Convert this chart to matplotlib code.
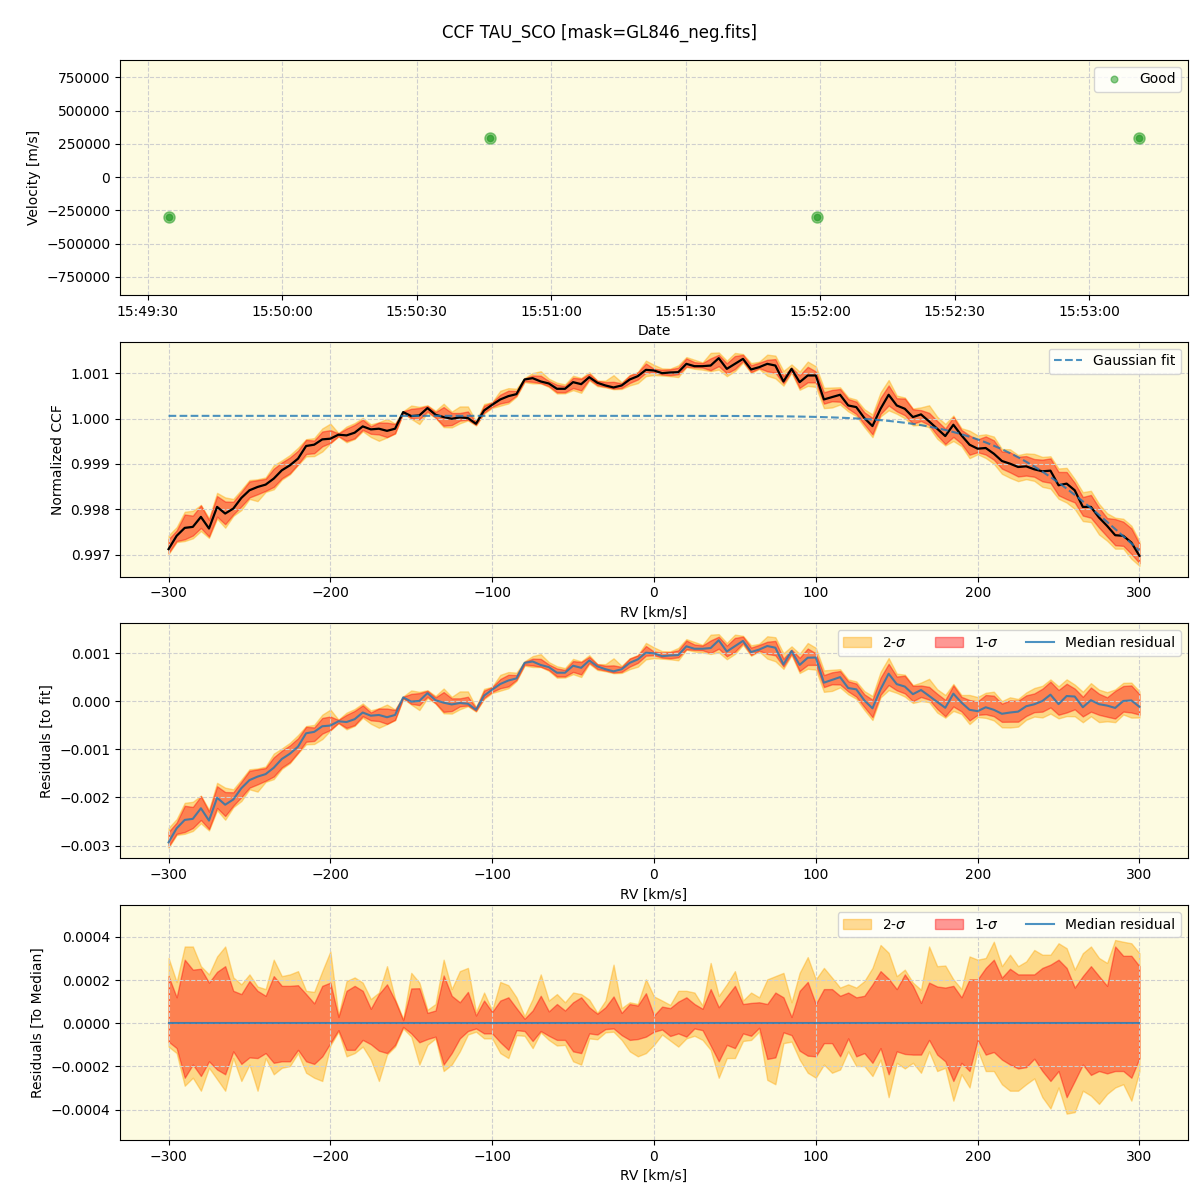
import matplotlib
matplotlib.use('Agg')
import matplotlib.pyplot as plt
import matplotlib.dates as mdates
from matplotlib.ticker import MultipleLocator
import numpy as np
import pandas as pd

# ---------------- data ----------------
obs_times = pd.to_datetime(['2023-06-01 15:49:34.7', '2023-06-01 15:50:46.3',
                            '2023-06-01 15:51:59.2', '2023-06-01 15:53:11.1'])
obs_velocity = [-300000, 293000, -300000, 293000]

rv = np.arange(-300, 305, 5)

ccf_median = [
    0.997125, 0.997418, 0.997593, 0.997615, 0.997835, 0.997579, 0.998055, 0.997909, 0.998018, 0.998253,
    0.998421, 0.998494, 0.998546, 0.998678, 0.998861, 0.998971, 0.999117, 0.999396, 0.999425, 0.999542,
    0.999557, 0.999645, 0.999630, 0.999689, 0.999828, 0.999762, 0.999777, 0.999730, 0.999777, 1.000143,
    1.000055, 1.000070, 1.000231, 1.000084, 1.000033, 0.999996, 1.000026, 1.000011, 0.999886, 1.000179,
    1.000304, 1.000421, 1.000494, 1.000538, 1.000861, 1.000890, 1.000817, 1.000773, 1.000656, 1.000656,
    1.000802, 1.000758, 1.000912, 1.000788, 1.000729, 1.000685, 1.000729, 1.000861, 1.000934, 1.001073,
    1.001059, 1.001000, 1.001015, 1.001022, 1.001205, 1.001154, 1.001154, 1.001168, 1.001330, 1.001095,
    1.001205, 1.001315, 1.001081, 1.001132, 1.001205, 1.001168, 1.000817, 1.001095, 1.000802, 1.000949,
    1.000949, 1.000421, 1.000473, 1.000524, 1.000289, 1.000253, 1.000011, 0.999835, 1.000216, 1.000524,
    1.000289, 1.000216, 1.000033, 1.000092, 0.999938, 0.999777, 0.999615, 0.999864, 0.999630, 0.999425,
    0.999337, 0.999352, 0.999227, 0.999066, 0.999007, 0.998934, 0.998948, 0.998883, 0.998839, 0.998853,
    0.998531, 0.998568, 0.998421, 0.998055, 0.998055, 0.997821, 0.997637, 0.997432, 0.997418, 0.997271,
    0.996978]

# Gaussian fit parameters (absorption profile)
fit_offset = 1.00006
fit_depth = 0.00449
fit_center = 378.0
fit_sigma = 85.7

# band offsets relative to the median, in units of 1e-4
up_1sig = [
    2.18, 1.20, 2.94, 2.48, 2.52, 1.88, 2.38, 2.64, 1.50, 1.35, 1.95, 1.50, 1.27, 2.18, 1.73, 1.73, 1.76, 1.35, 0.92, 1.73,
    1.88, 0.29, 1.50, 1.73, 1.50, 0.67, 1.35, 1.80, 1.05, 0.14,
    1.61, 1.62, 0.48, 0.59, 2.21, 1.27, 0.97, 1.45, 0.36, 1.05, 0.52, 1.05, 1.20, 0.70, 0.21, 0.59, 1.27, 0.55, 0.89, 0.59,
    0.97, 1.20, 0.74, 0.44, 0.74, 1.24, 0.48, 0.89, 0.82, 1.39,
    0.36, 0.77, 0.70, 1.00, 1.20, 0.89, 0.67, 1.58, 0.74, 1.24, 1.73, 0.89, 0.94, 0.97, 0.89, 1.42, 1.20, 0.29, 1.50, 1.91,
    0.89, 1.58, 1.58, 1.27, 1.42, 1.20, 1.27, 1.80, 2.41, 2.06,
    1.58, 2.26, 1.73, 0.94, 1.88, 1.70, 1.65, 1.73, 1.20, 2.03, 2.03, 2.56, 2.94, 2.11, 2.52, 2.26, 2.26, 2.26, 2.56, 2.71,
    2.94, 2.56, 1.65, 2.18, 2.64, 2.18, 1.73, 3.55, 3.12, 3.12, 2.64]
up_2sig = [
    3.02, 1.91, 3.55, 3.55, 2.64, 2.26, 3.09, 3.55, 2.12, 1.80, 2.26, 1.70, 1.58, 2.94, 2.18, 2.26, 2.41, 1.50, 1.45, 2.41,
    3.32, 0.36, 1.95, 2.12, 1.88, 1.12, 1.42, 2.64, 1.12, 0.20,
    2.33, 1.88, 0.62, 0.89, 2.94, 1.58, 2.41, 2.56, 0.52, 1.42, 0.59, 1.91, 1.76, 1.20, 0.33, 1.12, 2.26, 1.05, 1.35, 0.97,
    1.42, 1.35, 1.09, 0.48, 1.05, 2.71, 0.70, 0.97, 0.89, 2.03,
    1.24, 1.05, 0.85, 1.50, 1.50, 1.42, 0.82, 2.79, 1.27, 1.80, 2.41, 1.05, 1.42, 1.20, 2.03, 2.18, 2.33, 0.97, 2.33, 3.06,
    2.03, 2.56, 2.11, 1.65, 1.80, 1.65, 1.95, 2.56, 3.62, 3.26,
    2.18, 2.48, 1.88, 1.55, 3.55, 2.64, 2.67, 2.03, 1.58, 3.09, 2.94, 3.02, 3.77, 2.64, 3.17, 2.64, 2.86, 3.39, 3.17, 3.17,
    3.70, 3.47, 2.48, 3.24, 3.55, 3.02, 2.79, 3.85, 3.77, 3.70, 3.24]
lo_1sig = [
    -0.85, -1.15, -2.52, -1.91, -2.44, -1.76, -2.14, -2.36, -1.30, -1.88, -1.58, -1.61, -1.38, -1.83, -1.76, -1.76, -1.23, -1.76, -1.88, -1.53,
    -0.92, -0.32, -1.23, -1.23, -0.77, -0.97, -1.27, -1.38, -1.00, -0.17,
    -0.47, -0.88, -0.73, -0.62, -1.91, -1.38, -0.70, -0.36, -0.24, -0.47, -0.47, -0.88, -1.23, -0.32, -0.36, -0.82, -0.36, -0.58, -0.77, -0.77,
    -1.30, -1.38, -0.47, -0.52, -0.27, -0.24, -0.55, -0.77, -0.73, -0.62,
    -0.39, -0.29, -0.59, -0.47, -0.62, -0.24, -0.32, -1.03, -1.76, -1.00, -1.15, -0.47, -0.58, -0.21, -1.65, -1.58, -0.42, -0.55, -1.27, -1.50,
    -1.53, -0.92, -0.92, -1.53, -0.70, -1.53, -1.38, -1.83, -1.15, -2.36,
    -1.30, -1.42, -1.45, -1.45, -0.77, -1.45, -1.76, -2.67, -1.83, -2.21, -0.77, -1.45, -1.33, -1.68, -1.91, -2.09, -2.03, -1.64, -2.21, -2.67,
    -2.21, -3.42, -2.67, -1.91, -2.39, -2.21, -2.32, -2.21, -2.21, -2.52, -1.61]
lo_2sig = [
    -1.08, -1.38, -2.89, -2.52, -3.12, -2.06, -2.59, -3.12, -1.61, -2.67, -1.91, -3.12, -1.61, -2.36, -2.06, -1.98, -1.38, -2.29, -2.52, -2.67,
    -1.03, -0.39, -1.53, -1.38, -1.08, -1.68, -2.67, -1.45, -1.08, -0.24,
    -0.62, -1.91, -1.00, -0.70, -2.21, -1.91, -1.30, -0.52, -0.39, -0.70, -0.70, -1.38, -1.61, -0.55, -0.58, -1.15, -0.42, -0.77, -1.03, -1.00,
    -1.76, -1.91, -0.70, -0.74, -0.42, -0.39, -0.77, -1.30, -1.53, -1.38,
    -1.00, -0.52, -0.80, -1.08, -0.70, -0.58, -0.77, -1.23, -2.52, -1.61, -1.61, -0.82, -0.77, -0.39, -2.62, -2.82, -0.92, -0.85, -1.68, -2.29,
    -2.52, -1.91, -2.29, -2.14, -1.30, -1.98, -1.98, -2.44, -1.68, -3.42,
    -1.83, -2.09, -1.83, -2.29, -1.30, -2.21, -2.06, -3.58, -2.36, -2.97, -1.23, -2.21, -2.21, -2.82, -3.12, -3.12, -2.82, -2.55, -3.42, -3.94,
    -2.97, -4.18, -4.11, -3.12, -3.35, -3.73, -3.27, -2.97, -2.82, -3.58, -2.21]

# ---------------- derived ----------------
med = np.array(ccf_median)
u1 = np.array(up_1sig) * 1e-4
u2 = np.array(up_2sig) * 1e-4
l1 = np.array(lo_1sig) * 1e-4
l2 = np.array(lo_2sig) * 1e-4
fit = fit_offset - fit_depth * np.exp(-(rv - fit_center) ** 2 / (2 * fit_sigma ** 2))
resid = med - fit

# ---------------- style ----------------
bg = '#fdfbe1'
grid_kw = dict(linestyle='--', color='#cfcfcf', linewidth=0.8)
c2 = 'orange'
c1 = 'red'
line_blue = '#1f77b4'

fig, axes = plt.subplots(4, 1, figsize=(12, 12), dpi=100)
fig.subplots_adjust(left=0.1, right=0.99, top=0.95, bottom=0.05, hspace=0.2)
fig.suptitle('CCF TAU_SCO [mask=GL846_neg.fits]', fontsize=12)

# Panel 1: velocities vs time
ax = axes[0]
ax.set_facecolor(bg)
ax.plot(obs_times, obs_velocity, 'o', color='#2ca02c', ms=8, alpha=0.55, label='Good', zorder=3)
ax.plot(obs_times, obs_velocity, 'o', color='#2ca02c', ms=4.5, alpha=0.75, zorder=4)
ax.set_ylim(-885000, 880000)
ax.set_xlim(pd.Timestamp('2023-06-01 15:49:23.8'), pd.Timestamp('2023-06-01 15:53:22.0'))
ax.yaxis.set_major_locator(MultipleLocator(250000))
ax.xaxis.set_major_locator(mdates.SecondLocator(bysecond=[0, 30]))
ax.xaxis.set_major_formatter(mdates.DateFormatter('%H:%M:%S'))
ax.set_xlabel('Date')
ax.set_ylabel('Velocity [m/s]')
ax.grid(True, **grid_kw)
ax.legend(loc='upper right', markerscale=0.6)

# Panel 2: CCF
ax = axes[1]
ax.set_facecolor(bg)
ax.fill_between(rv, med + l2, med + u2, color=c2, alpha=0.4)
ax.fill_between(rv, med + l1, med + u1, color=c1, alpha=0.4)
ax.plot(rv, med, color='black', lw=1.6)
ax.plot(rv, fit, '--', color=line_blue, lw=1.5, alpha=0.8, label='Gaussian fit')
ax.ticklabel_format(axis='y', useOffset=False)
ax.set_xlabel('RV [km/s]')
ax.set_ylabel('Normalized CCF')
ax.grid(True, **grid_kw)
ax.legend(loc='upper right')

# Panel 3: residuals to fit
ax = axes[2]
ax.set_facecolor(bg)
ax.fill_between(rv, resid + l2, resid + u2, color=c2, alpha=0.4, label='2-$\\sigma$')
ax.fill_between(rv, resid + l1, resid + u1, color=c1, alpha=0.4, label='1-$\\sigma$')
ax.plot(rv, resid, color=line_blue, lw=1.5, alpha=0.8, label='Median residual')
ax.set_xlabel('RV [km/s]')
ax.set_ylabel('Residuals [to fit]')
ax.grid(True, **grid_kw)
ax.legend(loc='upper right', ncol=3)

# Panel 4: residuals to median
ax = axes[3]
ax.set_facecolor(bg)
ax.fill_between(rv, l2, u2, color=c2, alpha=0.4, label='2-$\\sigma$')
ax.fill_between(rv, l1, u1, color=c1, alpha=0.4, label='1-$\\sigma$')
ax.plot(rv, med - med, color=line_blue, lw=1.5, alpha=0.8, label='Median residual')
ax.set_ylim(-0.00054, 0.000546)
ax.set_xlabel('RV [km/s]')
ax.set_ylabel('Residuals [To Median]')
ax.grid(True, **grid_kw)
ax.legend(loc='upper right', ncol=3)

for a in axes[1:]:
    a.set_xlim(-330, 330)

fig.savefig('out.png', dpi=100)
